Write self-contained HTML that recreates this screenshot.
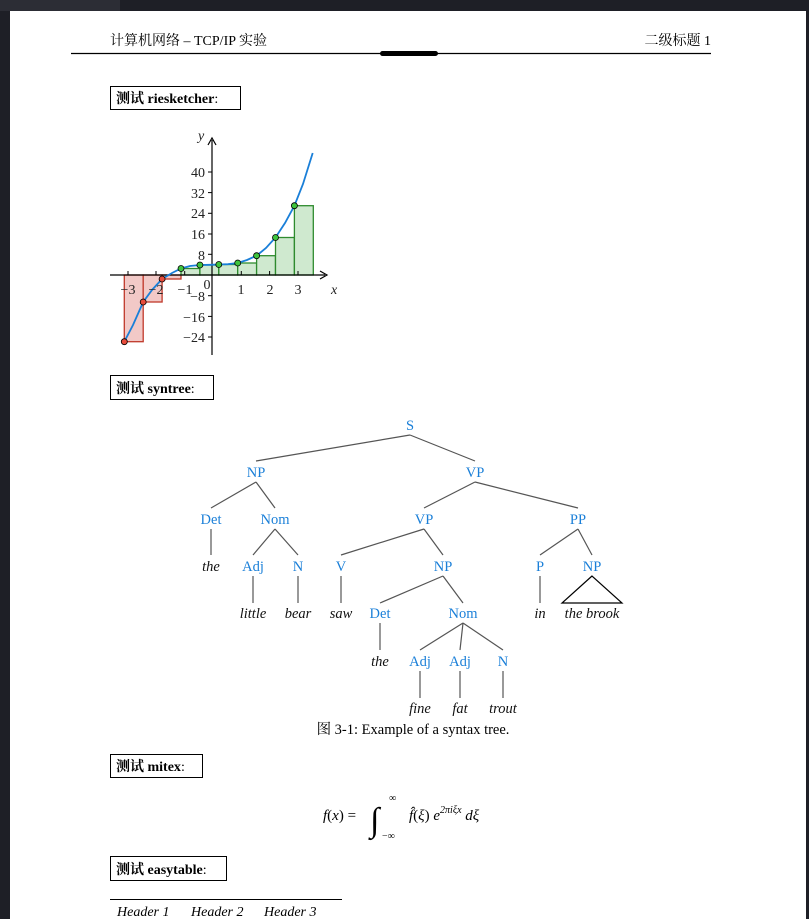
<!DOCTYPE html>
<html><head><meta charset="utf-8"><style>
body{margin:0;width:809px;height:919px;background:#1e1f26;position:relative;overflow:hidden;font-family:"Liberation Serif","Noto Serif CJK SC",serif;}
#tl{position:absolute;left:0;top:0;width:120px;height:11px;background:#2c2d35}
#page{position:absolute;left:10px;top:11px;width:796px;height:908px;background:#fff}
svg{position:absolute;left:0;top:0}
.b{font-family:"Liberation Serif","Noto Serif CJK SC",serif;font-size:14.5px;fill:#1a7fd8;text-anchor:middle}
.w{font-family:"Liberation Serif",serif;font-style:italic;font-size:14.5px;fill:#111;text-anchor:middle}
.t{font-family:"Liberation Serif",serif;font-size:14px;fill:#222}
.box{font-family:"Liberation Serif","Noto Serif CJK SC",serif;font-size:14px;font-weight:bold;fill:#000}
</style></head><body>
<div id="tl"></div><div id="page"></div>
<svg width="809" height="919" viewBox="0 0 809 919">
<text x="110" y="45" font-size="14" font-family="Liberation Serif,Noto Serif CJK SC,serif">计算机网络 – TCP/IP 实验</text>
<text x="711" y="45" font-size="14" text-anchor="end" font-family="Liberation Serif,Noto Serif CJK SC,serif">二级标题 1</text>
<line x1="71" y1="53.5" x2="711" y2="53.5" stroke="#000" stroke-width="1.3"/>
<rect x="380" y="51" width="58" height="5" rx="2.5" fill="#000"/>
<rect x="110.5" y="86.5" width="130" height="23" fill="none" stroke="#000"/>
<text x="116" y="103" class="box">测试 riesketcher<tspan font-weight="normal">:</tspan></text>
<rect x="110.5" y="375.5" width="103" height="24" fill="none" stroke="#000"/>
<text x="116" y="393" class="box">测试 syntree<tspan font-weight="normal">:</tspan></text>
<rect x="110.5" y="754.5" width="92" height="23" fill="none" stroke="#000"/>
<text x="116" y="771" class="box">测试 mitex<tspan font-weight="normal">:</tspan></text>
<rect x="110.5" y="856.5" width="116" height="24" fill="none" stroke="#000"/>
<text x="116" y="874" class="box">测试 easytable<tspan font-weight="normal">:</tspan></text>

<g stroke-width="1.3">
<g fill="#f2c9c7" stroke="#c0392b">
<rect x="124.3" y="275" width="18.9" height="66.7"/>
<rect x="143.2" y="275" width="18.9" height="27"/>
<rect x="162.1" y="275" width="18.9" height="4"/>
</g>
<g fill="#cfe9cf" stroke="#2e8b2e">
<rect x="181" y="268.5" width="18.9" height="6.5"/>
<rect x="199.9" y="265" width="18.9" height="10"/>
<rect x="218.8" y="264.5" width="18.9" height="10.5"/>
<rect x="237.7" y="263" width="18.9" height="12"/>
<rect x="256.6" y="255.7" width="18.9" height="19.3"/>
<rect x="275.5" y="237.5" width="18.9" height="37.5"/>
<rect x="294.4" y="205.7" width="18.9" height="69.3"/>
</g>
</g>
<line x1="110" y1="275" x2="325" y2="275" stroke="#000" stroke-width="1.2"/>
<path d="M320 271 L327 275 L320 279" fill="none" stroke="#000" stroke-width="1.2"/>
<line x1="212" y1="355" x2="212" y2="140" stroke="#000" stroke-width="1.2"/>
<path d="M208 145 L212 138 L216 145" fill="none" stroke="#000" stroke-width="1.2"/>
<polyline fill="none" stroke="#1a7fd8" stroke-width="1.8" points="124.3,341.7 133,325 143.2,302 152,290 162.1,279 172,273 181,268.5 190,266 199.9,265 210,264.8 218.8,264.5 228,264.2 237.7,263 247,260 256.6,255.7 266,248 275.5,237.5 285,223 294.4,205.7 303,184 312.7,153"/>
<g stroke="#000" stroke-width="0.8">
<circle cx="124.3" cy="341.7" r="3" fill="#e74c3c"/><circle cx="143.2" cy="302" r="3" fill="#e74c3c"/><circle cx="162.1" cy="279" r="3" fill="#e74c3c"/>
<circle cx="181" cy="268.5" r="3" fill="#3ec43e"/><circle cx="199.9" cy="265" r="3" fill="#3ec43e"/><circle cx="218.8" cy="264.5" r="3" fill="#3ec43e"/><circle cx="237.7" cy="263" r="3" fill="#3ec43e"/><circle cx="256.6" cy="255.7" r="3" fill="#3ec43e"/><circle cx="275.5" cy="237.5" r="3" fill="#3ec43e"/><circle cx="294.4" cy="205.7" r="3" fill="#3ec43e"/>
</g>
<g stroke="#000"><line x1="208" y1="172" x2="212" y2="172"/><line x1="208" y1="192.6" x2="212" y2="192.6"/><line x1="208" y1="213.3" x2="212" y2="213.3"/><line x1="208" y1="234" x2="212" y2="234"/><line x1="208" y1="254.3" x2="212" y2="254.3"/><line x1="208" y1="295.7" x2="212" y2="295.7"/><line x1="208" y1="316.4" x2="212" y2="316.4"/><line x1="208" y1="337" x2="212" y2="337"/>
<line x1="128" y1="271" x2="128" y2="275"/><line x1="156" y1="271" x2="156" y2="275"/><line x1="184.7" y1="271" x2="184.7" y2="275"/><line x1="241.3" y1="271" x2="241.3" y2="275"/><line x1="269.6" y1="271" x2="269.6" y2="275"/><line x1="298" y1="271" x2="298" y2="275"/></g>
<g class="t" text-anchor="end" font-size="14">
<text x="205" y="177">40</text><text x="205" y="198">32</text><text x="205" y="218">24</text><text x="205" y="239">16</text><text x="205" y="260">8</text><text x="205" y="301">−8</text><text x="205" y="322">−16</text><text x="205" y="342">−24</text></g>
<g class="t" text-anchor="middle"><text x="128" y="294">−3</text><text x="156" y="294">−2</text><text x="185" y="294">−1</text><text x="207" y="289">0</text><text x="241" y="294">1</text><text x="270" y="294">2</text><text x="298" y="294">3</text></g>
<text x="331" y="294" class="t" font-style="italic">x</text>
<text x="198" y="140" class="t" font-style="italic">y</text>

<g stroke="#555" stroke-width="1.2" fill="none">
<line x1="410" y1="435" x2="256" y2="461"/><line x1="410" y1="435" x2="475" y2="461"/>
<line x1="256" y1="482" x2="211" y2="508"/><line x1="256" y1="482" x2="275" y2="508"/>
<line x1="475" y1="482" x2="424" y2="508"/><line x1="475" y1="482" x2="578" y2="508"/>
<line x1="211" y1="529" x2="211" y2="555"/>
<line x1="275" y1="529" x2="253" y2="555"/><line x1="275" y1="529" x2="298" y2="555"/>
<line x1="424" y1="529" x2="341" y2="555"/><line x1="424" y1="529" x2="443" y2="555"/>
<line x1="578" y1="529" x2="540" y2="555"/><line x1="578" y1="529" x2="592" y2="555"/>
<line x1="253" y1="576" x2="253" y2="603"/><line x1="298" y1="576" x2="298" y2="603"/><line x1="341" y1="576" x2="341" y2="603"/>
<line x1="443" y1="576" x2="380" y2="603"/><line x1="443" y1="576" x2="463" y2="603"/>
<line x1="540" y1="576" x2="540" y2="603"/>
<path d="M592 576 L562 603 L622 603 Z" stroke="#000"/>
<line x1="380" y1="623" x2="380" y2="650"/>
<line x1="463" y1="623" x2="420" y2="650"/><line x1="463" y1="623" x2="460" y2="650"/><line x1="463" y1="623" x2="503" y2="650"/>
<line x1="420" y1="671" x2="420" y2="698"/><line x1="460" y1="671" x2="460" y2="698"/><line x1="503" y1="671" x2="503" y2="698"/>
</g>
<g class="b">
<text x="410" y="430">S</text>
<text x="256" y="477">NP</text><text x="475" y="477">VP</text>
<text x="211" y="524">Det</text><text x="275" y="524">Nom</text><text x="424" y="524">VP</text><text x="578" y="524">PP</text>
<text x="253" y="571">Adj</text><text x="298" y="571">N</text><text x="341" y="571">V</text><text x="443" y="571">NP</text><text x="540" y="571">P</text><text x="592" y="571">NP</text>
<text x="380" y="618">Det</text><text x="463" y="618">Nom</text>
<text x="420" y="666">Adj</text><text x="460" y="666">Adj</text><text x="503" y="666">N</text>
</g>
<g class="w">
<text x="211" y="571">the</text>
<text x="253" y="618">little</text><text x="298" y="618">bear</text><text x="341" y="618">saw</text><text x="540" y="618">in</text><text x="592" y="618">the brook</text>
<text x="380" y="666">the</text>
<text x="420" y="713">fine</text><text x="460" y="713">fat</text><text x="503" y="713">trout</text>
</g>
<text x="413" y="734" text-anchor="middle" font-size="14.5" font-family="Liberation Serif,Noto Serif CJK SC,serif">图 3-1: Example of a syntax tree.</text>

<g font-family="Liberation Serif,serif" font-size="15">
<text x="323" y="820"><tspan font-style="italic">f</tspan>(<tspan font-style="italic">x</tspan>) =</text>
<text x="370" y="831" font-size="34">∫</text>
<text x="389" y="801" font-size="10">∞</text>
<text x="382" y="839" font-size="10">−∞</text>
<text x="409" y="820"><tspan font-style="italic">f̂</tspan>(<tspan font-style="italic">ξ</tspan>) <tspan font-style="italic">e</tspan><tspan font-size="10" font-style="italic" dy="-7">2πiξx</tspan><tspan dy="7" font-style="italic"> dξ</tspan></text>
</g>

<line x1="110" y1="899.5" x2="342" y2="899.5" stroke="#000"/>
<g font-family="Liberation Serif,serif" font-style="italic" font-size="14" fill="#000">
<text x="117" y="916">Header 1</text><text x="191" y="916">Header 2</text><text x="264" y="916">Header 3</text></g>
</svg>
</body></html>
